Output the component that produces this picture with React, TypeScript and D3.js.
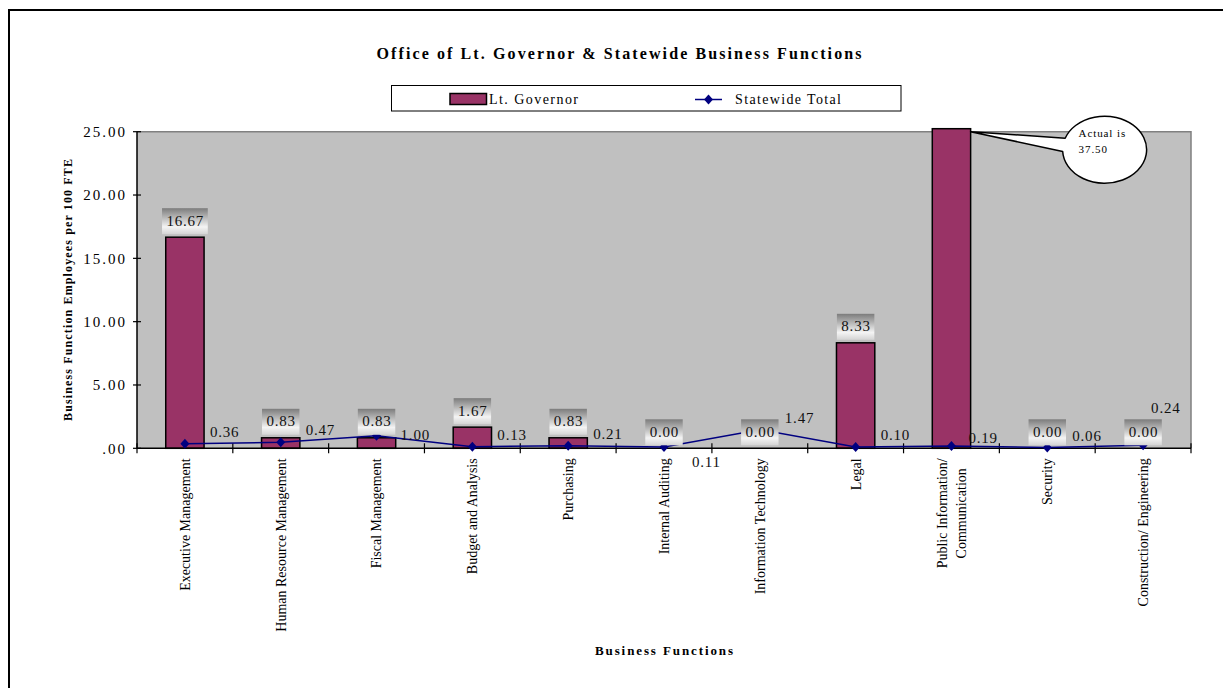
import { useEffect, useRef } from 'react'
import * as d3 from 'd3'

const chartTitle = 'Office of Lt. Governor & Statewide Business Functions'
const xAxisTitle = 'Business Functions'
const yAxisTitle = 'Business Function Employees per 100 FTE'
const seriesNames = ['Lt. Governor', 'Statewide Total']

const categories = [
  'Executive Management',
  'Human Resource Management',
  'Fiscal Management',
  'Budget and Analysis',
  'Purchasing',
  'Internal Auditing',
  'Information Technology',
  'Legal',
  'Public Information/\nCommunication',
  'Security',
  'Construction/ Engineering'
]
const ltGovernor = [16.67, 0.83, 0.83, 1.67, 0.83, 0.0, 0.0, 8.33, 37.5, 0.0, 0.0]
const statewideTotal = [0.36, 0.47, 1.0, 0.13, 0.21, 0.11, 1.47, 0.1, 0.19, 0.06, 0.24]
const yTicks = [0, 5, 10, 15, 20, 25]

// hand-moved line labels in the original (dx, dy from the marker)
const lineLabelNudge: Record<string, [number, number]> = {
  'Fiscal Management': [24, 4],
  'Internal Auditing': [28, 20],
  'Public Information/\nCommunication': [17, -3],
  'Construction/ Engineering': [8, -32]
}

const FONT = '"Liberation Serif", "Times New Roman", serif'
const BAR = '#993366'
const NAVY = '#000080'

export default function App() {
  const ref = useRef<SVGSVGElement | null>(null)

  useEffect(() => {
    if (!ref.current) return
    const svg = d3.select(ref.current)
    svg.selectAll('*').remove()

    const left = 137
    const right = 1191
    const top = 131.7
    const bottom = 448.3

    const x = d3.scaleBand().domain(categories).range([left, right])
    const y = d3.scaleLinear().domain([0, 25]).range([bottom, top])
    const barW = x.bandwidth() * 0.4
    const cx = (c: string) => x(c)! + x.bandwidth() / 2
    const yMax = y.domain()[1]

    const defs = svg.append('defs')
    const grad = defs
      .append('linearGradient')
      .attr('id', 'lblGrad')
      .attr('x1', 0)
      .attr('y1', 0)
      .attr('x2', 0)
      .attr('y2', 1)
    grad.append('stop').attr('offset', 0).attr('stop-color', '#7c7c7c')
    grad.append('stop').attr('offset', 0.72).attr('stop-color', '#f4f4f4')
    grad.append('stop').attr('offset', 1).attr('stop-color', '#d4d4d4')

    // outer chart frame
    svg
      .append('rect')
      .attr('x', 9)
      .attr('y', 10)
      .attr('width', 1240)
      .attr('height', 700)
      .attr('fill', '#fff')
      .attr('stroke', '#000')
      .attr('stroke-width', 2)

    // title
    svg
      .append('text')
      .attr('x', 619)
      .attr('y', 58.5)
      .attr('text-anchor', 'middle')
      .attr('font-family', FONT)
      .attr('font-weight', 'bold')
      .attr('font-size', 16)
      .attr('textLength', 485)
      .attr('lengthAdjust', 'spacing')
      .text(chartTitle)

    // legend
    const lg = svg.append('g')
    lg.append('rect')
      .attr('x', 391.5)
      .attr('y', 85.5)
      .attr('width', 509.5)
      .attr('height', 25.5)
      .attr('fill', '#fff')
      .attr('stroke', '#000')
    lg.append('rect')
      .attr('x', 450)
      .attr('y', 93.5)
      .attr('width', 36.5)
      .attr('height', 11)
      .attr('fill', BAR)
      .attr('stroke', '#000')
      .attr('stroke-width', 1.5)
    lg.append('text')
      .attr('x', 489)
      .attr('y', 103.5)
      .attr('font-family', FONT)
      .attr('font-size', 14)
      .attr('textLength', 89)
      .attr('lengthAdjust', 'spacing')
      .text(seriesNames[0])
    lg.append('line')
      .attr('x1', 695)
      .attr('x2', 722)
      .attr('y1', 99.5)
      .attr('y2', 99.5)
      .attr('stroke', NAVY)
      .attr('stroke-width', 1.5)
    lg.append('path')
      .attr('d', 'M708.5,94.5L713,99.5L708.5,104.5L704,99.5Z')
      .attr('fill', NAVY)
    lg.append('text')
      .attr('x', 735)
      .attr('y', 103.5)
      .attr('font-family', FONT)
      .attr('font-size', 14)
      .attr('textLength', 106)
      .attr('lengthAdjust', 'spacing')
      .text(seriesNames[1])

    // plot area
    svg
      .append('rect')
      .attr('x', left)
      .attr('y', top)
      .attr('width', right - left)
      .attr('height', bottom - top)
      .attr('fill', '#c0c0c0')
    svg
      .append('path')
      .attr('d', `M${left},${top}H${right}V${bottom}`)
      .attr('fill', 'none')
      .attr('stroke', '#808080')
      .attr('stroke-width', 1.5)

    // bars
    svg
      .selectAll('.bar')
      .data(categories)
      .enter()
      .append('rect')
      .attr('class', 'bar')
      .attr('x', d => cx(d) - barW / 2)
      .attr('width', barW)
      .attr('y', (d, i) => (ltGovernor[i] > yMax ? y(yMax) - 3 : y(ltGovernor[i])))
      .attr('height', (d, i) => bottom - (ltGovernor[i] > yMax ? y(yMax) - 3 : y(ltGovernor[i])))
      .attr('fill', BAR)
      .attr('stroke', '#000')
      .attr('stroke-width', 1.5)

    // axes
    svg
      .append('line')
      .attr('x1', left)
      .attr('x2', left)
      .attr('y1', top)
      .attr('y2', bottom)
      .attr('stroke', '#000')
      .attr('stroke-width', 1.5)
    svg
      .append('line')
      .attr('x1', left)
      .attr('x2', right)
      .attr('y1', bottom)
      .attr('y2', bottom)
      .attr('stroke', '#000')
      .attr('stroke-width', 1.5)

    yTicks.forEach(t => {
      svg
        .append('line')
        .attr('x1', left - 4)
        .attr('x2', left + 4)
        .attr('y1', y(t))
        .attr('y2', y(t))
        .attr('stroke', '#000')
        .attr('stroke-width', 1.2)
      svg
        .append('text')
        .attr('x', left - 10)
        .attr('y', y(t))
        .attr('dy', '0.35em')
        .attr('text-anchor', 'end')
        .attr('font-family', FONT)
        .attr('font-size', 15)
        .attr('letter-spacing', 2)
        .text(t === 0 ? '.00' : d3.format('.2f')(t))
    })

    const boundaries = [...categories.map(c => x(c)!), right]
    boundaries.forEach(bx => {
      svg
        .append('line')
        .attr('x1', bx)
        .attr('x2', bx)
        .attr('y1', bottom - 5)
        .attr('y2', bottom + 5)
        .attr('stroke', '#000')
        .attr('stroke-width', 1.2)
    })

    // category labels (rotated, wrapped lines centred on the longest)
    categories.forEach(c => {
      const lines = c.split('\n')
      const g = svg.append('g')
      const texts = lines.map(l =>
        g
          .append('text')
          .attr('font-family', FONT)
          .attr('font-size', 14)
          .attr('text-anchor', 'middle')
          .text(l)
      )
      const maxLen = d3.max(texts, t => (t.node() as SVGTextElement).getComputedTextLength()) || 0
      const lineH = 19
      texts.forEach((t, i) => {
        const off = (i - (lines.length - 1) / 2) * lineH
        t.attr('transform', `translate(${cx(c) + off},${bottom + 10 + maxLen / 2}) rotate(-90)`).attr('dy', '0.35em')
      })
    })

    // axis titles
    svg
      .append('text')
      .attr('transform', `translate(72,${(top + bottom) / 2}) rotate(-90)`)
      .attr('text-anchor', 'middle')
      .attr('font-family', FONT)
      .attr('font-weight', 'bold')
      .attr('font-size', 12)
      .attr('textLength', 262)
      .attr('lengthAdjust', 'spacing')
      .text(yAxisTitle)
    svg
      .append('text')
      .attr('x', (left + right) / 2)
      .attr('y', 655)
      .attr('text-anchor', 'middle')
      .attr('font-family', FONT)
      .attr('font-weight', 'bold')
      .attr('font-size', 13)
      .attr('textLength', 138)
      .attr('lengthAdjust', 'spacing')
      .text(xAxisTitle)

    // statewide line + diamonds
    const line = d3
      .line<number>()
      .x((d, i) => cx(categories[i]))
      .y(d => y(d))
    svg
      .append('path')
      .datum(statewideTotal)
      .attr('d', line)
      .attr('fill', 'none')
      .attr('stroke', NAVY)
      .attr('stroke-width', 1.5)
    svg
      .selectAll('.dot')
      .data(statewideTotal)
      .enter()
      .append('path')
      .attr('class', 'dot')
      .attr('d', (d, i) => {
        const px = cx(categories[i])
        const py = y(d)
        return `M${px},${py - 5}L${px + 4.5},${py}L${px},${py + 5}L${px - 4.5},${py}Z`
      })
      .attr('fill', NAVY)

    // bar value labels in shaded boxes
    categories.forEach((c, i) => {
      const v = ltGovernor[i]
      if (v > yMax) return
      const g = svg.append('g')
      const boxBottom = y(v) - 3
      const rect = g.append('rect').attr('fill', 'url(#lblGrad)')
      const t = g
        .append('text')
        .attr('x', cx(c) + 0.4)
        .attr('y', boxBottom - 8.5)
        .attr('text-anchor', 'middle')
        .attr('font-family', FONT)
        .attr('font-size', 15)
        .attr('letter-spacing', 0.8)
        .attr('fill', '#111')
        .text(d3.format('.2f')(v))
      const w = (t.node() as SVGTextElement).getComputedTextLength() + 8
      rect
        .attr('x', cx(c) - w / 2)
        .attr('y', boxBottom - 26)
        .attr('width', w)
        .attr('height', 26)
    })

    // statewide value labels
    statewideTotal.forEach((v, i) => {
      const c = categories[i]
      const [dx, dy] = lineLabelNudge[c] || [25, -7]
      svg
        .append('text')
        .attr('x', cx(c) + dx)
        .attr('y', y(v) + dy)
        .attr('font-family', FONT)
        .attr('font-size', 15)
        .attr('letter-spacing', 0.8)
        .attr('fill', '#111')
        .text(d3.format('.2f')(v))
    })

    // callout for the clipped bar
    categories.forEach((c, i) => {
      const v = ltGovernor[i]
      if (v <= yMax) return
      const tipX = cx(c) + barW / 2
      const tipY = y(yMax)
      const ecx = tipX + 134
      const ecy = tipY + 18
      const rx = 42
      const ry = 33.5
      const a1 = (200 * Math.PI) / 180
      const a2 = (177 * Math.PI) / 180
      const ax = ecx + rx * Math.cos(a1)
      const ay = ecy + ry * Math.sin(a1)
      const bx = ecx + rx * Math.cos(a2)
      const by = ecy + ry * Math.sin(a2)
      svg
        .append('path')
        .attr('d', `M${tipX},${tipY}L${ax},${ay}A${rx},${ry} 0 1 1 ${bx},${by}Z`)
        .attr('fill', '#fff')
        .attr('stroke', '#000')
        .attr('stroke-width', 1.5)
        .attr('stroke-linejoin', 'round')
      const lines = ['Actual is', d3.format('.2f')(v)]
      lines.forEach((l, j) => {
        svg
          .append('text')
          .attr('x', ecx - 26)
          .attr('y', ecy - 12.5 + j * 16)
          .attr('font-family', FONT)
          .attr('font-size', 11)
          .attr('letter-spacing', 0.9)
          .text(l)
      })
    })
  }, [])

  return (
    <svg
      ref={ref}
      width={1223}
      height={688}
      style={{ position: 'absolute', left: 0, top: 0, background: '#fff' }}
    />
  )
}
